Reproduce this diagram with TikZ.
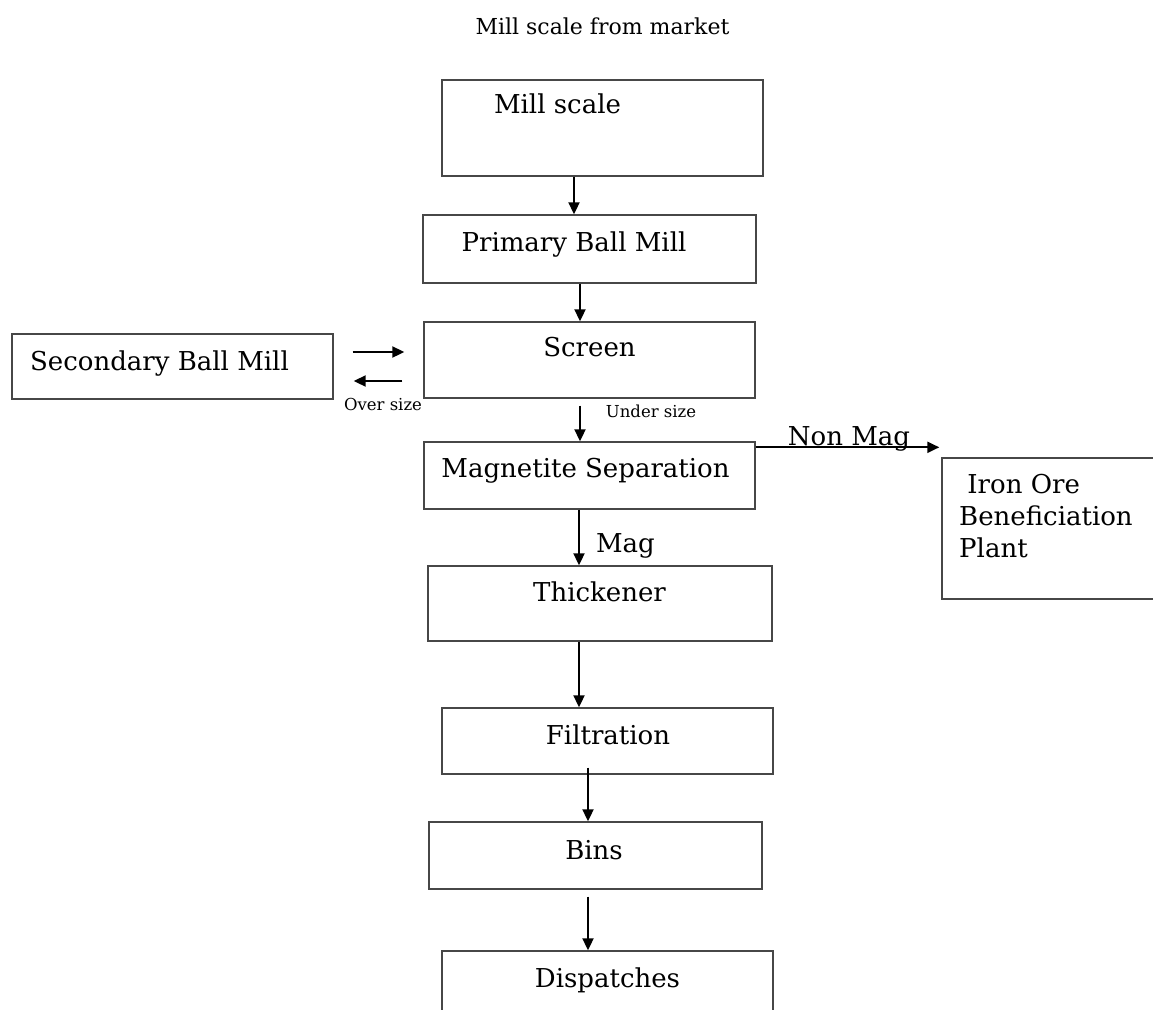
\documentclass[tikz,border=0pt]{standalone}
\usepackage{fontspec}
\setmainfont{DejaVu Serif}
\usetikzlibrary{arrows.meta,calc}
\begin{document}
\begin{tikzpicture}[x=1pt,y=-1pt,
  box/.style={draw=black!72, line width=1.4pt, inner sep=0pt, rectangle},
  lbl/.style={inner sep=0pt, anchor=base, font=\fontsize{26}{32}\selectfont},
  ttl/.style={inner sep=0pt, anchor=base, font=\fontsize{22}{26}\selectfont},
  small/.style={inner sep=0pt, anchor=base, font=\fontsize{16.5}{18}\selectfont},
  arr/.style={draw=black, line width=2pt, -{Triangle[length=12pt,width=11pt]}}]
\useasboundingbox (0,0) rectangle (1153,1009);
\clip (0,0) rectangle (1153,1009);

% column coordinates for vertical connectors
\coordinate (c1) at (574,0);
\coordinate (c2) at (580,0);
\coordinate (c3) at (579,0);
\coordinate (c4) at (588,0);

% boxes
\node[box, minimum width=321pt, minimum height=96pt] (ms)   at (602.5,128)   {};
\node[box, minimum width=333pt, minimum height=68pt] (pbm)  at (589.5,249)   {};
\node[box, minimum width=331pt, minimum height=76pt] (scr)  at (589.5,360)   {};
\node[box, minimum width=321pt, minimum height=65pt] (sbm)  at (172.5,366.5) {};
\node[box, minimum width=331pt, minimum height=67pt] (mag)  at (589.5,475.5) {};
\node[box, minimum width=228pt, minimum height=141pt] (iob) at (1056,528.5)  {};
\node[box, minimum width=344pt, minimum height=75pt] (thk)  at (600,603.5)   {};
\node[box, minimum width=331pt, minimum height=66pt] (fil)  at (607.5,741)   {};
\node[box, minimum width=333pt, minimum height=67pt] (bins) at (595.5,855.5) {};
\node[box, minimum width=331pt, minimum height=89pt] (dis)  at (607.5,995.5) {};

% texts
\node[ttl] (title) at (602.5,34) {Mill scale from market};
\node[lbl] (tms)   at (557.5,113) {Mill scale};
\node[lbl] (tpbm)  at (574,251)   {Primary Ball Mill};
\node[lbl] (tscr)  at (589.5,356) {Screen};
\node[lbl] (tsbm)  at (159.5,370) {Secondary Ball Mill};
\node[small] (tover)  at (383,410) {Over size};
\node[small] (tunder) at (651,417) {Under size};
\node[lbl] (tmag)  at (585.5,477) {Magnetite Separation};
\node[lbl] (tnon)  at (849,445)   {Non Mag};
\node[lbl, anchor=west, align=left] (tiob) at (959,516) {\ Iron Ore\\Beneficiation\\Plant};
\node[lbl] (tmg)   at (625.5,552) {Mag};
\node[lbl] (tthk)  at (599.5,601) {Thickener};
\node[lbl] (tfil)  at (608,744)   {Filtration};
\node[lbl] (tbins) at (594,859)   {Bins};
\node[lbl] (tdis)  at (607.5,987) {Dispatches};

% connectors
\draw[arr] (ms.south -| c1) -- (pbm.north -| c1);
\draw[arr] (pbm.south -| c2) -- (scr.north -| c2);
\draw[arr] ($(sbm.east)+(19,-14.5)$) -- ($(scr.west)+(-19,-8)$);
\draw[arr] ($(scr.west)+(-21,21)$) -- ($(sbm.east)+(20,14.5)$);
\draw[arr] ($(scr.south -| c2)+(0,7)$) -- (mag.north -| c2);
\draw[arr] ($(mag.north east)+(0,6)$) -- ($(iob.north west)+(-2,-10)$);
\draw[arr] (mag.south -| c3) -- (thk.north -| c3);
\draw[arr] (thk.south -| c3) -- (fil.north -| c3);
\draw[arr] ($(fil.south -| c4)+(0,-7)$) -- (bins.north -| c4);
\draw[arr] ($(bins.south -| c4)+(0,7)$) -- (dis.north -| c4);
\end{tikzpicture}
\end{document}
